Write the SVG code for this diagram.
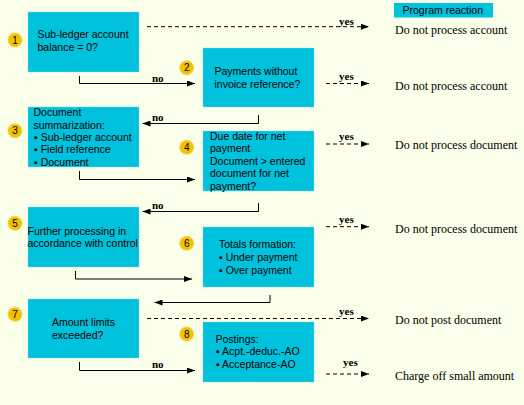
<svg xmlns="http://www.w3.org/2000/svg" width="524" height="405" viewBox="0 0 524 405">
<style>
.bg{fill:#FAFFEA}
.box{fill:#00C2DC;stroke:#7FD8E6;stroke-width:0.8;stroke-dasharray:1,1}
.t{font-family:"Liberation Sans",Arial,sans-serif;font-size:10.5px;fill:#000}
.r{font-family:"Liberation Serif","Times New Roman",serif;font-size:12px;fill:#000}
.lb{font-family:"Liberation Serif","Times New Roman",serif;font-size:11px;font-weight:bold;fill:#000}
.badge{fill:#F2C100;stroke:#F7D65A;stroke-width:1.5;stroke-dasharray:1.2,1}
.bn{font-family:"Liberation Sans",Arial,sans-serif;font-size:10px;fill:#000;text-anchor:middle}
.ln{fill:none;stroke:#000;stroke-width:1}
.dl{fill:none;stroke:#000;stroke-width:1;stroke-dasharray:4,3}
</style>
<defs>
<marker id="ah" viewBox="0 0 8 6" refX="8" refY="3" markerWidth="8" markerHeight="6" markerUnits="userSpaceOnUse" orient="auto">
<path d="M0,0 L8,3 L0,6 z" fill="#000"/>
</marker>
</defs>
<rect class="bg" x="0" y="0" width="524" height="405"/>

<g id="header">
<rect x="394" y="3" width="99" height="14.5" fill="#00C2DC"/>
<text class="t" x="402.5" y="14">Program reaction</text>
</g>

<g id="connectors">
<path class="dl" d="M147,26.7 H369" marker-end="url(#ah)"/>
<text class="lb" x="339" y="25">yes</text>
<path class="ln" d="M79.5,76 V83.5 H195" marker-end="url(#ah)"/>
<text class="lb" x="152" y="81.5">no</text>
<path class="dl" d="M326,83.5 H369" marker-end="url(#ah)"/>
<text class="lb" x="339" y="80">yes</text>
<path class="ln" d="M258.5,115 V123.5 H142.5" marker-end="url(#ah)"/>
<text class="lb" x="152" y="120.5">no</text>
<path class="ln" d="M79.5,171 V179.5 H195" marker-end="url(#ah)"/>
<path class="dl" d="M326,144 H369" marker-end="url(#ah)"/>
<text class="lb" x="339" y="140">yes</text>
<path class="ln" d="M258.5,203 V211.5 H142.5" marker-end="url(#ah)"/>
<text class="lb" x="152" y="208.5">no</text>
<path class="ln" d="M75.5,271 V279 H192" marker-end="url(#ah)"/>
<path class="dl" d="M326,226.7 H369" marker-end="url(#ah)"/>
<text class="lb" x="339" y="223">yes</text>
<path class="ln" d="M270,295 V302.5 H154.5" marker-end="url(#ah)"/>
<path class="dl" d="M147,318.5 H369" marker-end="url(#ah)"/>
<text class="lb" x="339" y="315">yes</text>
<path class="ln" d="M79.5,362 V370.5 H195" marker-end="url(#ah)"/>
<text class="lb" x="152" y="367.5">no</text>
<path class="dl" d="M326,374 H369" marker-end="url(#ah)"/>
<text class="lb" x="343" y="366">yes</text>
</g>

<g id="reactions">
<text class="r" x="395" y="33.5">Do not process account</text>
<text class="r" x="395" y="90">Do not process account</text>
<text class="r" x="395" y="148.5">Do not process document</text>
<text class="r" x="395" y="232.5">Do not process document</text>
<text class="r" x="395" y="323.5">Do not post document</text>
<text class="r" x="395" y="379.5">Charge off small amount</text>
</g>

<g id="node1">
<rect class="box" x="28" y="12" width="111" height="60"/>
<text class="t" x="37.5" y="38">Sub-ledger account</text>
<text class="t" x="37.5" y="51">balance = 0?</text>
<circle class="badge" cx="15" cy="40" r="7"/>
<text class="bn" x="15" y="43.5">1</text>
</g>

<g id="node2">
<rect class="box" x="203" y="48" width="111" height="59"/>
<text class="t" x="214.5" y="75">Payments without</text>
<text class="t" x="214.5" y="87.5">invoice reference?</text>
<circle class="badge" cx="186.7" cy="67.7" r="7"/>
<text class="bn" x="186.7" y="71.2">2</text>
</g>

<g id="node3">
<rect class="box" x="28" y="107" width="111" height="60"/>
<text class="t" x="33.5" y="115.5">Document</text>
<text class="t" x="33.5" y="128.5">summarization:</text>
<text class="t" x="34" y="140.5">▪ Sub-ledger account</text>
<text class="t" x="34" y="153">▪ Field reference</text>
<text class="t" x="34" y="166">▪ Document</text>
<circle class="badge" cx="15" cy="130.7" r="7"/>
<text class="bn" x="15" y="134.2">3</text>
</g>

<g id="node4">
<rect class="box" x="203" y="131" width="111" height="60"/>
<text class="t" x="210" y="140">Due date for net</text>
<text class="t" x="210" y="152">payment</text>
<text class="t" x="210" y="164.5">Document &gt; entered</text>
<text class="t" x="210" y="177">document for net</text>
<text class="t" x="210" y="189.5">payment?</text>
<circle class="badge" cx="186.7" cy="147.3" r="7"/>
<text class="bn" x="186.7" y="150.8">4</text>
</g>

<g id="node5">
<rect class="box" x="28" y="207" width="111" height="60"/>
<text class="t" x="27.5" y="235">Further processing in</text>
<text class="t" x="27.5" y="246.5">accordance with control</text>
<circle class="badge" cx="15" cy="223.3" r="7"/>
<text class="bn" x="15" y="226.8">5</text>
</g>

<g id="node6">
<rect class="box" x="203" y="227" width="111" height="60"/>
<text class="t" x="219" y="247.5">Totals formation:</text>
<text class="t" x="219" y="260.5">▪ Under payment</text>
<text class="t" x="219" y="273.5">▪ Over payment</text>
<circle class="badge" cx="186.7" cy="243.3" r="7"/>
<text class="bn" x="186.7" y="246.8">6</text>
</g>

<g id="node7">
<rect class="box" x="28" y="299" width="111" height="59"/>
<text class="t" x="52" y="325.5">Amount limits</text>
<text class="t" x="52" y="338.5">exceeded?</text>
<circle class="badge" cx="15" cy="314.3" r="7"/>
<text class="bn" x="15" y="317.8">7</text>
</g>

<g id="node8">
<rect class="box" x="203" y="322" width="111" height="60"/>
<text class="t" x="215.5" y="342.5">Postings:</text>
<text class="t" x="216" y="355">▪ Acpt.-deduc.-AO</text>
<text class="t" x="216" y="367.5">▪ Acceptance-AO</text>
<circle class="badge" cx="186.7" cy="334" r="7"/>
<text class="bn" x="186.7" y="337.5">8</text>
</g>
</svg>
